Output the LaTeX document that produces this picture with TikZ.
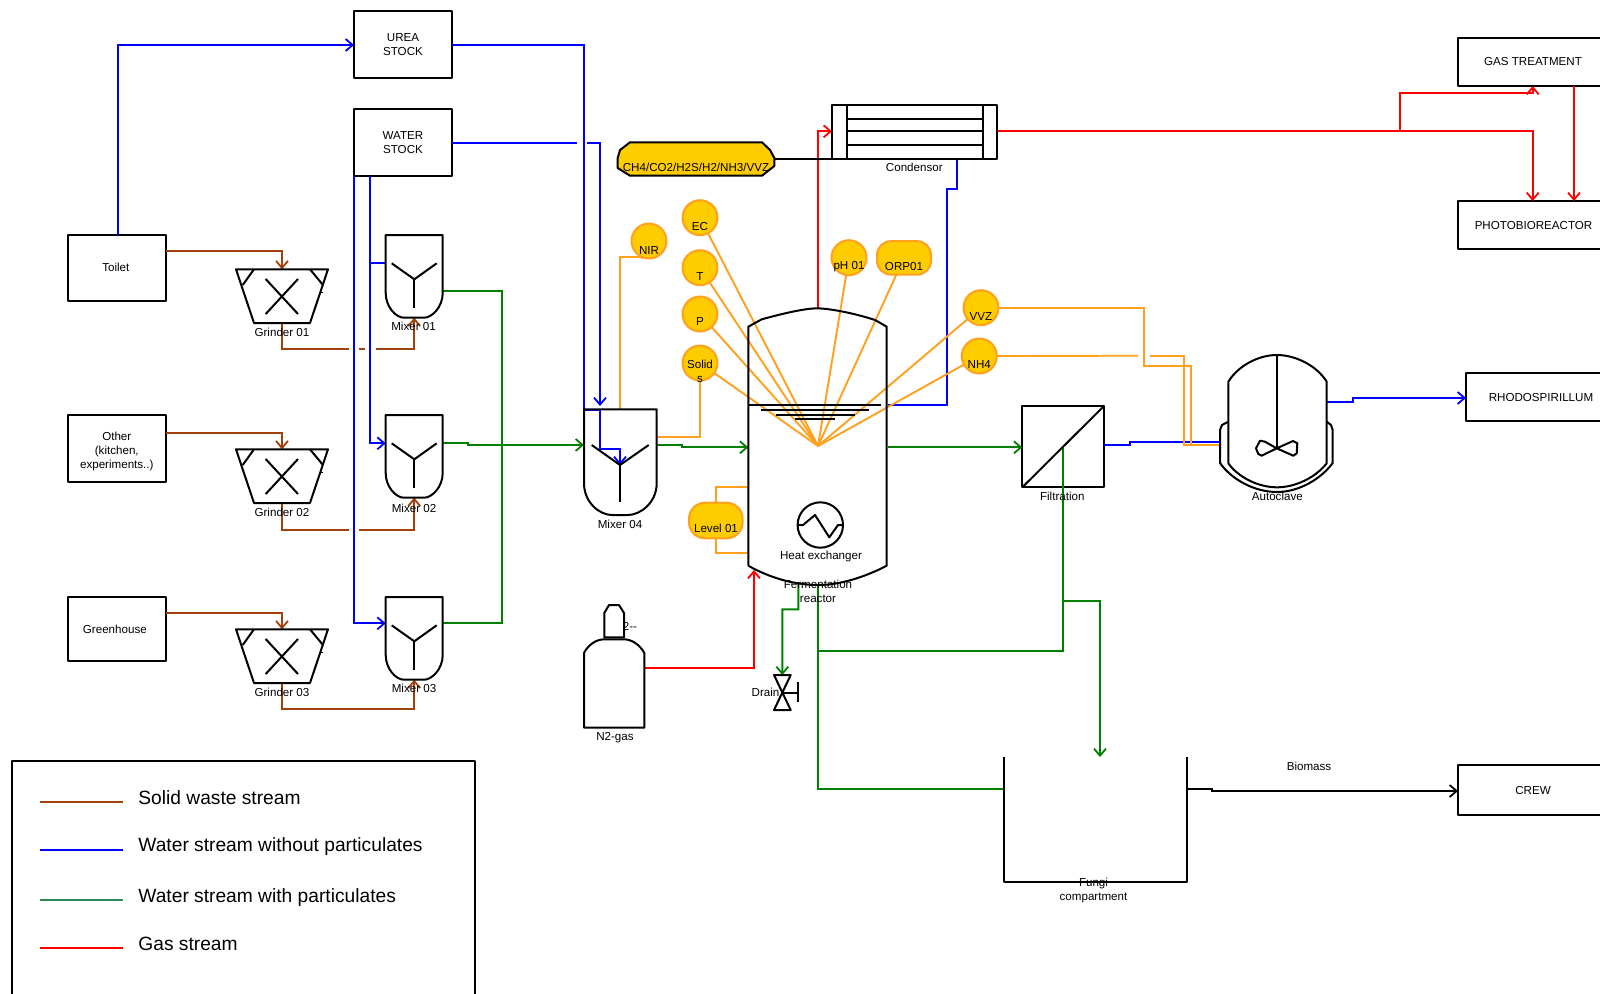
\documentclass[tikz,border=0pt]{standalone}
\usepackage{fontspec}
\setmainfont{Liberation Sans}
\usetikzlibrary{arrows.meta}
\definecolor{cBrown}{HTML}{A0410D}
\definecolor{cBlue}{HTML}{0000FF}
\definecolor{cGreen}{HTML}{008000}
\definecolor{cLegG}{HTML}{2E8B57}
\definecolor{cRed}{HTML}{FF0000}
\definecolor{cOrange}{HTML}{FFA01E}
\definecolor{cGold}{HTML}{FFCC00}
\newcommand{\smallfont}{\fontsize{5.8}{7}\selectfont}
\newcommand{\legfont}{\fontsize{9.6}{11}\selectfont}
\tikzset{
  shapeline/.style={draw=black,line width=1pt,line join=round},
  pipe/.style={line width=0.95pt,line join=miter},
  arrowed/.style={-{Straight Barb[length=3.5pt,width=6pt,line width=0.9pt]}},
  solidpipe/.style={pipe,draw=cBrown},
  waterpipe/.style={pipe,draw=cBlue},
  slurrypipe/.style={pipe,draw=cGreen},
  gaspipe/.style={pipe,draw=cRed},
  sigpipe/.style={pipe,draw=cOrange},
  plainpipe/.style={pipe,draw=black},
  labeltext/.style={font=\smallfont,inner sep=0pt,align=center},
  legtext/.style={font=\legfont,inner sep=0pt,anchor=base west},
  eqbox/.style={rectangle,inner sep=0pt,outer sep=0pt,font=\smallfont,align=center},
  boxdrawn/.style={eqbox,shapeline},
  sensor/.style={circle,draw=cOrange,fill=cGold,line width=1pt,minimum size=17.5pt,inner sep=0pt,outer sep=0pt},
  sensorwide/.style={rectangle,rounded corners=7pt,draw=cOrange,fill=cGold,line width=1pt,inner sep=0pt,outer sep=0pt},
}
% \rbox{name}{x1}{y1}{x2}{y2}: invisible frame of a drawn piece of equipment
\newcommand{\rbox}[5]{%
  \node[eqbox,minimum width={(#4-#2)*0.5pt},minimum height={(#5-#3)*0.5pt}] (#1) at ({(#2+#4)/2},{(#3+#5)/2}) {};}
% \tbox{name}{x1}{y1}{x2}{y2}{text}: drawn box with text
\newcommand{\tbox}[6]{%
  \node[boxdrawn,minimum width={(#4-#2)*0.5pt},minimum height={(#5-#3)*0.5pt}] (#1) at ({(#2+#4)/2},{(#3+#5)/2}) {#6};}
\newcommand{\grindershape}[1]{%
  \begin{scope}[shift={(0,#1)}]
    \draw[shapeline] (236,269.3) -- (328,269.3) -- (310,323) -- (254,323) -- cycle;
    \draw[shapeline] (254,269.3) -- (242.7,285);
    \draw[shapeline] (310,269.3) -- (323,285);
    \draw[shapeline] (265.7,279) -- (298,314);
    \draw[shapeline] (298,279) -- (265.7,314);
    \draw[line width=0.4pt] (321,292) -- (323,292);
  \end{scope}}
\newcommand{\mixershape}[1]{%
  \begin{scope}[shift={(0,#1)}]
    \draw[shapeline] (385.7,235) -- (442.7,235) -- (442.7,293)
      .. controls (442.7,307) and (432,317.7) .. (424,317.7) -- (404,317.7)
      .. controls (396,317.7) and (385.7,307) .. (385.7,293) -- cycle;
    \draw[shapeline] (391.7,263.3) -- (414.3,279.3) -- (436.7,263.3);
    \draw[shapeline] (414.3,279.3) -- (414.3,307.7);
  \end{scope}}
\begin{document}
\begin{tikzpicture}[x=0.5pt,y=-0.5pt]
\useasboundingbox (0,0) rectangle (1600,993);
\clip (0,0) rectangle (1600,993);
\fill[white] (0,0) rectangle (1600,993);

% ---------- boxes
\tbox{toilet}{67.7}{235}{166}{301}{\raisebox{0.3pt}{Toilet\kern1pt}}
\tbox{other}{67.7}{415}{166}{482}{}
\tbox{green}{67.7}{597}{166}{661}{Greenhouse\kern2pt}
\tbox{urea}{354}{11}{452}{78}{UREA\\STOCK}
\tbox{water}{354}{109}{452}{175.5}{WATER\\STOCK}
\tbox{gastreat}{1458}{38}{1608}{86}{\raisebox{1pt}{GAS TREATMENT}}
\tbox{photo}{1458}{201}{1609}{249}{PHOTOBIOREACTOR}
\tbox{rhodo}{1466}{373}{1616}{421}{RHODOSPIRILLUM}
\tbox{crew}{1458}{765}{1608}{815}{CREW}

% ---------- invisible frames of the drawn equipment
\rbox{grinder1}{236}{269.3}{328}{323}
\rbox{grinder2}{236}{449.3}{328}{503}
\rbox{grinder3}{236}{629.3}{328}{683}
\rbox{mixer1}{385.7}{235}{442.7}{317.7}
\rbox{mixer2}{385.7}{415}{442.7}{497.7}
\rbox{mixer3}{385.7}{597}{442.7}{679.7}
\rbox{mixer4}{584}{409.3}{656.7}{515}
\rbox{reactor}{748.3}{308.3}{887.7}{585}
\rbox{condensor}{832}{105}{996.7}{159.3}
\rbox{autoclave}{1220}{355}{1332.7}{490}
\rbox{bottle}{584}{605}{644.3}{727.7}
\rbox{drain}{774}{675}{790.7}{710}
\rbox{fungi}{1004}{757}{1186.7}{881.6}
\rbox{sGas}{617.7}{142.3}{774.3}{175.7}
\tbox{filter}{1022.3}{405.7}{1104.3}{487.3}{}

\coordinate (probe) at (818,446);
\coordinate (m4y) at (620,465);
\coordinate (m4in) at (600,406);
\coordinate (acOut) at (1326.7,401.7);
\coordinate (fungiIn) at (1100,757);

% ---------- sensors
\node[sensor] (sEC) at (700,217.7) {};
\node[sensor] (sT) at (700,267.7) {};
\node[sensor] (sP) at (700,314) {};
\node[sensor] (sSolids) at (700,363) {};
\node[sensor] (sNIR) at (649,241) {};
\node[sensor] (sPH) at (849,257.7) {};
\node[sensor] (sVVZ) at (981,307.7) {};
\node[sensor] (sNH4) at (979.3,356) {};
\node[sensorwide,minimum width=27pt,minimum height=16.8pt] (sORP) at (904,257.9) {};
\node[sensorwide,rounded corners=8pt,minimum width=26.8pt,minimum height=17.8pt] (sLevel) at (715.8,520.5) {};
\draw[shapeline,fill=cGold] (630,142.3) -- (762,142.3) -- (770,150) -- (774.3,158) -- (774.3,166) -- (762,175.7)
  -- (630,175.7) -- (617.7,168) -- (617.7,158) -- (620,150) -- cycle;

% ---------- solid waste
\draw[solidpipe,arrowed] (toilet.east |- 0,251.3) -| (grinder1.north);
\draw[solidpipe,arrowed] (other.east |- 0,433.3) -| (grinder2.north);
\draw[solidpipe,arrowed] (green.east |- 0,613.3) -| (grinder3.north);
\draw[solidpipe] (grinder1.south) |- (349,349.3);
\draw[solidpipe] (359.3,349.3) -- (365,349.3);
\draw[solidpipe,arrowed] (375.7,349.3) -| (mixer1.south);
\draw[solidpipe] (grinder2.south) |- (349,529.6);
\draw[solidpipe,arrowed] (359,529.6) -| (mixer2.south);
\draw[solidpipe,arrowed] (grinder3.south) |- (mixer3.south |- 0,709.3) -- (mixer3.south);

% ---------- clean water
\draw[waterpipe,arrowed] (toilet.north -| 118,0) -- (118,45) -- (urea.west |- 0,45);
\draw[waterpipe,arrowed] (urea.east |- 0,45) -| (584,410) -- (600,410) -- (600,449) -- (620,449) -- (m4y);
\draw[waterpipe] (water.east |- 0,143) -- (577,143);
\draw[waterpipe,arrowed] (587,143) -| (m4in);
\draw[waterpipe,arrowed] (354,175.5) |- (mixer3.west |- 0,623.3);
\draw[waterpipe] (370,175.5) |- (mixer1.west |- 0,263.3);
\draw[waterpipe,arrowed] (370,263.3) |- (mixer2.west |- 0,443.3);
\draw[waterpipe] (condensor.south -| 956.7,0) -- (956.7,189) -- (946.7,189) -- (946.7,405.3) -- (reactor.east |- 0,405.3);
\draw[waterpipe] (filter.east |- 0,445.3) -- (1130,445.3) -- (1130,441.7) -- (autoclave.west |- 0,441.7);
\draw[waterpipe,arrowed] (acOut) -- (1353,401.7) -- (1353,398) -- (rhodo.west |- 0,398);

% ---------- slurry
\draw[slurrypipe] (mixer1.east |- 0,291) -- (502.3,291) -- (502.3,623.3) -- (mixer3.east |- 0,623.3);
\draw[slurrypipe,arrowed] (mixer2.east |- 0,443.3) -- (468.3,443.3) -- (468.3,445) -- (mixer4.west |- 0,445);
\draw[slurrypipe,arrowed] (mixer4.east |- 0,445.3) -- (681.7,445.3) -- (681.7,447.3) -- (reactor.west |- 0,447.3);
\draw[slurrypipe,arrowed] (reactor.east |- 0,447.3) -- (filter.west |- 0,447.3);
\draw[slurrypipe] (reactor.south) |- (fungi.west |- 0,789);
\draw[slurrypipe] (filter.center) |- (reactor.south |- 0,651);
\draw[slurrypipe,arrowed] (filter.center |- 0,601) -| (fungiIn);
\draw[slurrypipe,arrowed] (798.3,583) -- (798.3,609.3) -- (782.3,609.3) -- (drain.north);

% ---------- gas
\draw[gaspipe,arrowed] (818,308.3) |- (condensor.west |- 0,131.3);
\draw[gaspipe,arrowed] (condensor.east |- 0,131.3) -- (1532.7,131.3) -- (photo.north -| 1532.7,0);
\draw[gaspipe,arrowed] (1400,131.3) -- (1400,93) -- (1532.7,93) -- (gastreat.south -| 1532.7,0);
\draw[gaspipe,arrowed] (gastreat.south -| 1574,0) -- (photo.north -| 1574,0);
\draw[gaspipe,arrowed] (bottle.east |- 0,667.7) -- (754,667.7) -- (754,570);

% ---------- sensor lines
\foreach \s in {sEC,sT,sP,sSolids,sPH,sORP,sVVZ,sNH4} {\draw[sigpipe] (\s) -- (probe);}
\draw[sigpipe] (sNIR.south) ++(-7,0) |- (620,257.3) -- (mixer4.north -| 620,0);
\draw[sigpipe] (sSolids.south) |- (mixer4.east |- 0,437.3);
\draw[sigpipe] (sLevel.north) |- (reactor.west |- 0,487.3);
\draw[sigpipe] (sLevel.south) |- (reactor.west |- 0,553.3);
\draw[sigpipe] (sVVZ.east) -- (1144.3,307.7) -- (1144.3,365.7) -- (1190.7,365.7) -- (1190.7,445) -- (autoclave.west |- 0,445);
\draw[sigpipe] (sNH4.east) -- (1138.3,355.7);
\draw[sigpipe] (1150,355.7) -- (1184.3,355.7) -- (1184.3,445) -- (autoclave.west |- 0,445);

% ---------- black links
\draw[plainpipe] (sGas.east |- 0,159.3) -- (condensor.west |- 0,159.3);
\draw[plainpipe,arrowed] (fungi.east |- 0,789) -- (1212,789) -- (1212,791) -- (crew.west |- 0,791);

% ---------- equipment outlines
\grindershape{0}
\grindershape{180}
\grindershape{360}
\mixershape{0}
\mixershape{180}
\mixershape{362}
% mixer 04
\draw[shapeline] (584,409.3) -- (656.7,409.3) -- (656.7,483)
  .. controls (656.7,503) and (640,515) .. (628,515) -- (612,515)
  .. controls (600,515) and (584,503) .. (584,483) -- cycle;
\draw[shapeline] (591.7,445) -- (620,465) -- (648.7,445);
\draw[shapeline] (620,465) -- (620,501.7);
% reactor
\draw[shapeline] (748.3,565.7) -- (748.3,326.7) -- (761.7,319.3)
  .. controls (785,313) and (805,308.3) .. (818,308.3)
  .. controls (835,309) and (860,315) .. (875,320) -- (886.7,326.7) -- (886.7,565.7)
  .. controls (865,577) and (840,585) .. (818,585)
  .. controls (795,585) and (770,578) .. (748.3,565.7);
\draw[shapeline] (748.3,405.3) -- (881,405.3);
\draw[shapeline] (761,409.7) -- (869,409.7);
\draw[shapeline] (776,415.3) -- (855,415.3);
\draw[shapeline] (795,419.3) -- (835,419.3);
% heat exchanger
\node[circle,shapeline,minimum size=22.7pt,inner sep=0pt,outer sep=0pt] (heatex) at (820.3,525) {};
\draw[shapeline] (heatex.west) -- (803,525) -- (815,515) -- (829.3,537.3) -- (838,525) -- (heatex.east);
% condensor
\draw[shapeline] (832,105) rectangle (996.7,159.3);
\draw[shapeline] (846.7,105) -- (846.7,159.3);
\draw[shapeline] (982.7,105) -- (982.7,159.3);
\draw[shapeline] (846.7,119.3) -- (982.7,119.3);
\draw[shapeline] (846.7,131.3) -- (982.7,131.3);
\draw[shapeline] (846.7,145.3) -- (982.7,145.3);
% filter diagonal
\draw[shapeline] (filter.south west) -- (filter.north east);
% autoclave
\draw[shapeline] (1228.3,463.3) -- (1228.3,381.7)
  .. controls (1238,366) and (1258,355) .. (1277,355)
  .. controls (1296,355) and (1317,366) .. (1326.7,381.7) -- (1326.7,463.3)
  .. controls (1316,477) and (1296,487.3) .. (1277,487.3)
  .. controls (1258,487.3) and (1238,477) .. (1228.3,463.3);
\draw[shapeline] (1228.3,421.7) -- (1222,425) -- (1220,430) -- (1220,463)
  .. controls (1232,480) and (1255,492) .. (1277,492)
  .. controls (1298,492) and (1320,480) .. (1332.7,463) -- (1332.7,430) -- (1331,425) -- (1326.7,421.7);
\draw[shapeline] (1276.7,355) -- (1276.7,448.3);
\draw[shapeline] (1276.7,448.3) -- (1265,441.7) -- (1260,440.7) -- (1256,448.3) -- (1258.3,454) -- (1261.7,455.7)
  -- (1276.7,448.3) -- (1293,441) -- (1297.3,443.3) -- (1296.7,453.3) -- (1293.3,455.7) -- cycle;
% bottle
\draw[shapeline] (584,727.7) -- (584,653)
  .. controls (588,645) and (596,639.3) .. (604.3,639.3) -- (624,639.3)
  .. controls (632,639.3) and (640,645) .. (644.3,653) -- (644.3,727.7) -- cycle;
\draw[shapeline] (604.3,637.3) -- (604.3,613) -- (609,605) -- (619,605) -- (624,613) -- (624,637.3) -- cycle;
% drain valve
\draw[shapeline] (drain.north west) -- (drain.north east) -- (drain.south west) -- (drain.south east) -- cycle;
\draw[shapeline] (drain.center) -- (798.3,692.5);
\draw[shapeline] (798.3,682) -- (798.3,702);
% fungi compartment
\draw[shapeline] (fungi.north west) -- (fungi.south west) -- (fungi.south east) -- (fungi.north east);

% ---------- labels
\node[labeltext] (tOther) at (116.8,451) {Other\\(kitchen,\\experiments..)};
\node[labeltext] (tG1) at (282,332.5) {Grinder 01};
\node[labeltext] (tG2) at (282,512.5) {Grinder 02};
\node[labeltext] (tG3) at (282,692.5) {Grinder 03};
\node[labeltext] (tM1) at (413.5,326) {Mixer 01};
\node[labeltext] (tM2) at (414,508.5) {Mixer 02};
\node[labeltext] (tM3) at (414,688.5) {Mixer 03};
\node[labeltext] (tM4) at (620,524) {Mixer 04};
\node[labeltext] (tEC) at (700,226) {EC};
\node[labeltext] (tT) at (700,276) {T};
\node[labeltext] (tP) at (700,321.7) {P};
\node[labeltext] (tSolids) at (700,371) {Solid\\s};
\node[labeltext] (tNIR) at (649,250) {NIR};
\node[labeltext] (tPH) at (849,266.7) {pH 01};
\node[labeltext] (tORP) at (904,266) {ORP01};
\node[labeltext] (tVVZ) at (981,316) {VVZ};
\node[labeltext] (tNH4) at (979.3,364) {NH4};
\node[labeltext] (tLevel) at (716,528) {Level 01};
\node[labeltext] (tGas) at (696,167) {CH4/CO2/H2S/H2/NH3/VVZ};
\node[labeltext] (tCond) at (914.3,167.3) {Condensor};
\node[labeltext] (tHeat) at (821,556.5) {Heat exchanger};
\node[labeltext] (tReact) at (818,591) {Fermentation\\reactor};
\node[labeltext] (tFilt) at (1062.3,496) {Filtration};
\node[labeltext] (tAuto) at (1277.3,496) {Autoclave};
\node[labeltext] (tN2a) at (630,626.7) {2-{}-};
\node[labeltext] (tN2) at (615,737.5) {N2-gas};
\node[labeltext] (tDrain) at (765.5,692) {Drain};
\node[labeltext] (tBio) at (1309,766) {Biomass};
\node[labeltext] (tFungi) at (1093.5,890.5) {Fungi\\compartment};

% ---------- legend
\tbox{legend}{12}{761}{474.5}{1020}{}
\coordinate (la1) at (39.5,801.7); \coordinate (lb1) at (122.7,801.7);
\coordinate (la2) at (39.5,849.7); \coordinate (lb2) at (122.7,849.7);
\coordinate (la3) at (39.5,899.7); \coordinate (lb3) at (122.7,899.7);
\coordinate (la4) at (39.5,947.7); \coordinate (lb4) at (122.7,947.7);
\draw[solidpipe] (la1) -- (lb1);
\draw[waterpipe] (la2) -- (lb2);
\draw[pipe,draw=cLegG] (la3) -- (lb3);
\draw[gaspipe] (la4) -- (lb4);
\node[legtext] (lt1) at (138,804) {Solid waste stream};
\node[legtext] (lt2) at (138,851.7) {Water stream without particulates};
\node[legtext] (lt3) at (138,902) {Water stream with particulates};
\node[legtext] (lt4) at (138,950) {Gas stream};
\end{tikzpicture}
\end{document}
